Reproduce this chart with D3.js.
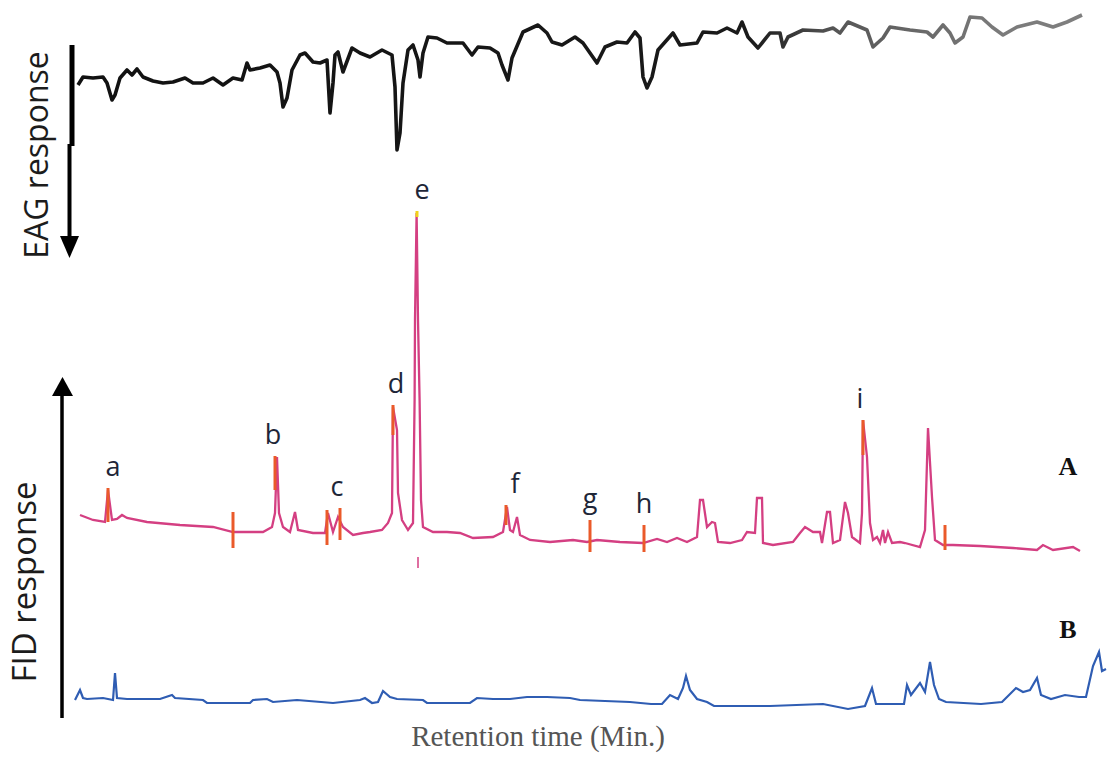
<!DOCTYPE html>
<html>
<head>
<meta charset="utf-8">
<script src="https://cdn.jsdelivr.net/npm/d3@7"></script>
<style>
  html, body { margin: 0; padding: 0; background: #ffffff; }
  svg { display: block; }
</style>
</head>
<body>
<svg id="chart" width="1110" height="759"></svg>
<script>
// Retention time (min) of each sampled point along the EAG trace
const eagTime = [0, 0.25, 0.75, 1.25, 1.45, 1.7, 1.85, 2.1, 2.45, 2.7, 2.95, 3.25, 3.75, 4.25, 4.75, 5.35, 5.75, 6.25, 6.75, 7.25,
  7.75, 8.2, 8.45, 8.6, 9.1, 9.6, 9.95, 10.1, 10.25, 10.45, 10.7, 11.1, 11.35, 11.75, 12.1, 12.45, 12.6, 12.75, 12.85, 13.0,
  13.25, 13.7, 14.1, 14.6, 15.2, 15.7, 15.85, 15.95, 16.1, 16.25, 16.5, 16.75, 17.0, 17.1, 17.25, 17.5, 17.95, 18.45, 19.25, 19.7,
  20.0, 20.6, 21.0, 21.2, 21.5, 21.7, 22.25, 23.0, 23.45, 23.7, 24.2, 24.85, 25.25, 25.95, 26.35, 26.95, 27.45, 27.85, 28.1, 28.25,
  28.45, 28.7, 29.0, 29.75, 30.1, 30.95, 31.25, 31.95, 32.45, 32.95, 33.2, 33.5, 34.0, 34.6, 35.1, 35.25, 35.5, 36.25, 37.25, 37.75,
  38.1, 38.5, 39.45, 39.75, 40.25, 40.6, 41.6, 42.45, 42.75, 43.25, 43.6, 43.85, 44.25, 44.6, 45.2, 45.7, 46.25, 46.95, 47.95, 48.75,
  49.45, 50.2];
// EAG response (mV); depolarisations point downward
const eagMV = [-0.65, -0.57, -0.58, -0.57, -0.63, -0.80, -0.75, -0.58, -0.50, -0.55, -0.49, -0.57, -0.61, -0.63, -0.62, -0.58, -0.63, -0.63, -0.58, -0.65,
  -0.58, -0.60, -0.43, -0.50, -0.48, -0.45, -0.52, -0.63, -0.87, -0.78, -0.50, -0.35, -0.33, -0.42, -0.43, -0.40, -0.93, -0.63, -0.35, -0.32,
  -0.52, -0.28, -0.33, -0.37, -0.30, -0.35, -0.67, -1.30, -1.13, -0.63, -0.30, -0.25, -0.40, -0.57, -0.33, -0.17, -0.18, -0.23, -0.23, -0.35,
  -0.27, -0.28, -0.33, -0.45, -0.60, -0.38, -0.12, -0.05, -0.13, -0.22, -0.25, -0.17, -0.23, -0.43, -0.27, -0.22, -0.23, -0.12, -0.18, -0.57,
  -0.68, -0.57, -0.30, -0.13, -0.25, -0.23, -0.12, -0.13, -0.08, -0.13, -0.02, -0.17, -0.28, -0.13, -0.13, -0.27, -0.17, -0.10, -0.11, -0.08,
  -0.13, -0.02, -0.10, -0.27, -0.18, -0.07, -0.10, -0.12, -0.17, -0.05, -0.13, -0.23, -0.17, 0.03, 0.02, -0.07, -0.15, -0.07, -0.02, -0.07,
  -0.02, 0.05];

// FID trace A (sample extract)
const fidATime = [0.1, 0.75, 1.35, 1.5, 1.7, 1.95, 2.2, 2.45, 3.45, 5.1, 6.75, 7.75, 9.25, 9.7, 9.85, 9.95, 10.05, 10.25, 10.6, 10.85,
  11.0, 11.75, 12.35, 12.5, 12.75, 13.0, 13.25, 13.75, 14.25, 14.6, 15.2, 15.5, 15.7, 15.75, 15.95, 16.0, 16.2, 16.5, 16.75, 16.83,
  16.85, 16.93, 17.0, 17.08, 17.15, 17.25, 17.75, 18.45, 19.1, 19.75, 20.75, 21.25, 21.45, 21.6, 21.75, 21.95, 22.1, 22.6, 23.6, 24.75,
  25.45, 25.95, 27.1, 28.25, 28.95, 29.45, 29.95, 30.45, 30.95, 31.1, 31.25, 31.45, 31.7, 31.85, 32.0, 32.6, 33.2, 33.45, 33.85, 33.95,
  34.2, 34.25, 34.75, 35.75, 36.1, 36.35, 36.75, 37.1, 37.2, 37.45, 37.6, 37.75, 38.1, 38.35, 38.5, 38.7, 39.1, 39.2, 39.25, 39.45,
  39.6, 39.75, 39.95, 40.1, 40.25, 40.35, 40.5, 40.7, 41.1, 41.35, 42.1, 42.35, 42.5, 42.7, 42.85, 43.25, 43.75, 45.1, 46.75, 47.95,
  48.25, 48.75, 49.75, 50.1];
const fidASignal = [40, 35, 33, 65, 35, 36, 40, 37, 33, 30, 28, 23, 23, 28, 42, 98, 42, 28, 23, 43,
  25, 22, 22, 42, 23, 38, 28, 20, 22, 23, 25, 32, 42, 148, 125, 62, 35, 25, 32, 155,
  235, 342, 235, 155, 55, 28, 23, 23, 22, 17, 18, 23, 48, 25, 23, 38, 20, 15, 13, 15,
  13, 15, 13, 12, 16, 13, 17, 13, 18, 55, 55, 28, 33, 32, 13, 12, 15, 23, 22, 57,
  57, 12, 10, 13, 22, 28, 23, 23, 12, 43, 43, 12, 15, 53, 42, 18, 12, 42, 135, 98,
  32, 15, 18, 12, 25, 12, 23, 12, 13, 12, 8, 25, 127, 58, 15, 10, 10, 9, 7, 5,
  10, 5, 8, 4];

// FID trace B (control)
const fidBTime = [-0.15, 0.1, 0.25, 0.45, 1.25, 1.75, 1.85, 1.95, 2.45, 4.1, 4.7, 4.85, 6.25, 6.45, 8.6, 8.75, 9.45, 9.75, 10.95, 12.75,
  14.1, 14.35, 14.7, 15.0, 15.25, 15.6, 15.95, 17.25, 17.45, 19.6, 19.95, 20.75, 21.6, 22.45, 23.45, 24.6, 25.1, 27.6, 28.65, 29.2,
  29.6, 30.0, 30.25, 30.4, 30.6, 30.95, 31.45, 31.8, 34.6, 37.25, 38.5, 39.35, 39.7, 39.9, 41.3, 41.45, 41.65, 42.1, 42.35, 42.6,
  42.8, 43.05, 43.4, 45.15, 46.2, 46.9, 47.25, 47.6, 47.95, 48.15, 48.65, 49.35, 50.05, 50.4, 50.75, 51.05, 51.2, 51.4];
const fidBSignal = [10, 20, 12, 11, 12, 10, 37, 12, 11, 11, 15, 12, 10, 7, 7, 10, 11, 8, 10, 7,
  10, 12, 7, 8, 19, 13, 11, 10, 7, 7, 12, 11, 11, 13, 13, 12, 10, 8, 6, 6,
  15, 11, 22, 34, 20, 11, 8, 4, 4, 6, 1, 4, 22, 6, 6, 25, 15, 27, 18, 48,
  25, 11, 8, 6, 8, 22, 18, 20, 32, 15, 11, 15, 13, 13, 44, 58, 39, 41];

// EAD-active peak markers on trace A: retention time and signal span
const markerTime = [1.5, 7.75, 9.85, 12.45, 13.1, 15.75, 16.95, 21.4, 25.6, 28.3, 39.25, 43.35];
const markerLow  = [33, 7, 65, 10, 15, 120, 338, 30, 3, 3, 100, 5];
const markerHigh = [67, 43, 99, 45, 47, 150, 344, 50, 35, 30, 135, 30];

// Compound letters and the marker each one annotates
const peakLabels = ["a", "b", "c", "d", "e", "f", "g", "h", "i"];
const labelTime  = [1.75, 9.75, 12.95, 15.9, 17.2, 21.85, 25.6, 28.3, 39.1];
const labelMarker = [0, 2, 4, 5, 6, 7, 8, 9, 10];

const svg = d3.select("#chart");

// Shared retention-time axis
const x = d3.scaleLinear().domain([0, 51.5]).range([78, 1108]);
// Separate vertical scales for each trace panel
const yEag = d3.scaleLinear().domain([0, -1]).range([20, 120]);
const yA = d3.scaleLinear().domain([0, 350]).range([555, 205]);
const yB = d3.scaleLinear().domain([0, 350]).range([710, 360]);

// Stroke for the EAG trace fades from black to grey toward the end of the run
const defs = svg.append("defs");
const grad = defs.append("linearGradient")
  .attr("id", "eagStroke").attr("gradientUnits", "userSpaceOnUse")
  .attr("x1", x(0)).attr("x2", x(51)).attr("y1", 0).attr("y2", 0);
grad.append("stop").attr("offset", 0).attr("stop-color", "#111");
grad.append("stop").attr("offset", 0.66).attr("stop-color", "#1a1a1a");
grad.append("stop").attr("offset", 0.74).attr("stop-color", "#555");
grad.append("stop").attr("offset", 0.9).attr("stop-color", "#7a7a7a");
grad.append("stop").attr("offset", 1).attr("stop-color", "#808080");

// EAG trace
const eagLine = d3.line().x((d, i) => x(eagTime[i])).y(d => yEag(d));
svg.append("path")
  .attr("d", eagLine(eagMV))
  .attr("fill", "none")
  .attr("stroke", "url(#eagStroke)")
  .attr("stroke-width", 3.6)
  .attr("stroke-linejoin", "round");

// FID trace B
const lineB = d3.line().x((d, i) => x(fidBTime[i])).y(d => yB(d));
svg.append("path")
  .attr("d", lineB(fidBSignal))
  .attr("fill", "none")
  .attr("stroke", "#2f5db3")
  .attr("stroke-width", 2.2);

// FID trace A
const lineA = d3.line().x((d, i) => x(fidATime[i])).y(d => yA(d));
svg.append("path")
  .attr("d", lineA(fidASignal))
  .attr("fill", "none")
  .attr("stroke", "#d43f82")
  .attr("stroke-width", 2.3);

// Peak markers
svg.append("g").selectAll("line")
  .data(markerTime)
  .join("line")
  .attr("x1", d => x(d)).attr("x2", d => x(d))
  .attr("y1", (d, i) => yA(markerLow[i]))
  .attr("y2", (d, i) => yA(markerHigh[i]))
  .attr("stroke", (d, i) => i === 6 ? "#f2d21b" : "#ea5a2a")
  .attr("stroke-width", 3);

// Tick below the main peak
svg.append("line")
  .attr("x1", x(17.0)).attr("x2", x(17.0))
  .attr("y1", yA(-2)).attr("y2", yA(-13))
  .attr("stroke", "#d43f82").attr("stroke-width", 1.5);

// Compound letters
svg.append("g").selectAll("text")
  .data(peakLabels)
  .join("text")
  .attr("x", (d, i) => x(labelTime[i]))
  .attr("y", (d, i) => yA(markerHigh[labelMarker[i]]) - 12)
  .attr("text-anchor", "middle")
  .attr("font-family", "'Open Sans', sans-serif")
  .attr("font-size", 27)
  .attr("fill", "#1e2638")
  .text(d => d);

// Trace identifiers
svg.append("text").attr("x", 1068).attr("y", 475)
  .attr("text-anchor", "middle")
  .attr("font-family", "'Liberation Serif', serif").attr("font-weight", "bold")
  .attr("font-size", 26).attr("fill", "#111").text("A");
svg.append("text").attr("x", 1068).attr("y", 638)
  .attr("text-anchor", "middle")
  .attr("font-family", "'Liberation Serif', serif").attr("font-weight", "bold")
  .attr("font-size", 26).attr("fill", "#111").text("B");

// EAG axis arrow (pointing down)
svg.append("line").attr("x1", 72).attr("x2", 72).attr("y1", 45).attr("y2", 146)
  .attr("stroke", "#000").attr("stroke-width", 5);
svg.append("line").attr("x1", 69.5).attr("x2", 69.5).attr("y1", 144).attr("y2", 242)
  .attr("stroke", "#000").attr("stroke-width", 4);
svg.append("path")
  .attr("d", d3.line()([[60, 236], [79, 236], [69.5, 258]]) + "Z")
  .attr("fill", "#000");

// FID axis arrow (pointing up)
svg.append("line").attr("x1", 62).attr("x2", 62).attr("y1", 392).attr("y2", 718)
  .attr("stroke", "#000").attr("stroke-width", 3.5);
svg.append("path")
  .attr("d", d3.line()([[52, 396], [73, 396], [62.5, 377]]) + "Z")
  .attr("fill", "#000");

// Axis titles
svg.append("text")
  .attr("transform", "translate(48,155) rotate(-90)")
  .attr("text-anchor", "middle")
  .attr("font-family", "'Open Sans', sans-serif")
  .attr("font-size", 32).attr("fill", "#1c1c1c")
  .text("EAG response");
svg.append("text")
  .attr("transform", "translate(36,582) rotate(-90)")
  .attr("text-anchor", "middle")
  .attr("font-family", "'Open Sans', sans-serif")
  .attr("font-size", 33).attr("fill", "#1c1c1c")
  .text("FID response");
svg.append("text")
  .attr("x", 538).attr("y", 746)
  .attr("text-anchor", "middle")
  .attr("font-family", "'Liberation Serif', serif")
  .attr("font-size", 29).attr("fill", "#555")
  .text("Retention time (Min.)");
</script>
</body>
</html>
